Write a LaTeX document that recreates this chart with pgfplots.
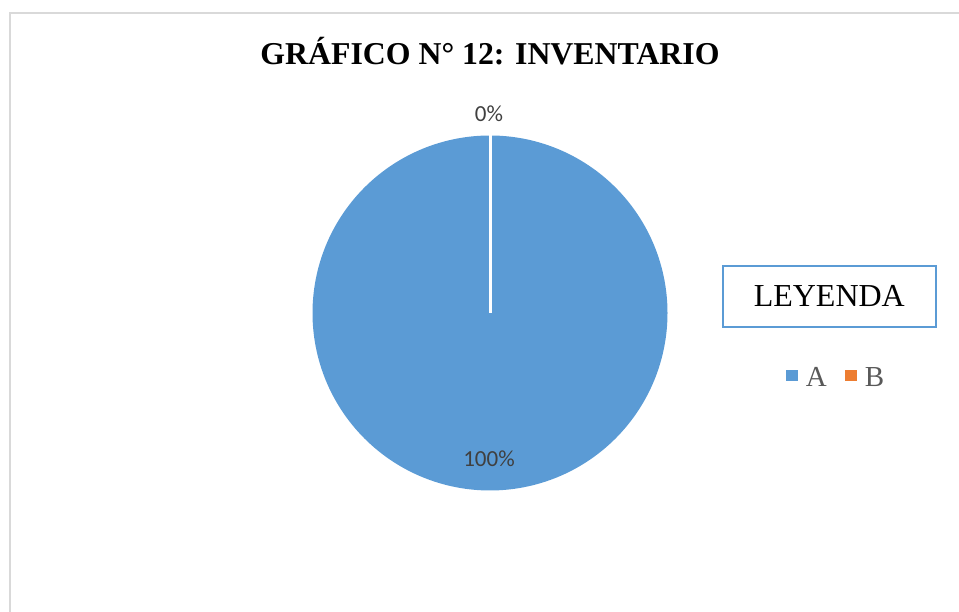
\documentclass[border=0pt]{standalone}
\usepackage{fontspec}
\setmainfont{Liberation Serif}
\newfontfamily\calibri{Carlito}
\usepackage{pgfplots}
\usepackage{pgfplotstable}
\pgfplotsset{compat=1.18}
\definecolor{pieblue}{HTML}{5B9BD5}
\definecolor{pieorange}{HTML}{ED7D31}
\definecolor{labgray}{HTML}{404040}
\definecolor{leggray}{HTML}{595959}
\definecolor{framegray}{HTML}{D9D9D9}
\pgfplotstableread{
cat val
A 100
B 0
}\piedata
\begin{document}
\begin{tikzpicture}[x=1pt,y=1pt]
\pgfplotstablegetelem{0}{val}\of\piedata \let\valA\pgfplotsretval
\pgfplotstablegetelem{1}{val}\of\piedata \let\valB\pgfplotsretval
\draw[framegray, line width=1.5pt] (10,599) rectangle (990,-30);
\node[anchor=base, font=\fontsize{31.8}{38}\selectfont\bfseries] at (490,547) {GRÁFICO N° 12: INVENTARIO};
\begin{axis}[at={(312.5pt,121.5pt)}, anchor=south west, scale only axis,
  width=355pt, height=355pt, xmin=-1, xmax=1, ymin=-1, ymax=1,
  hide axis, clip=false,
  legend columns=2,
  legend style={at={(1.3245,0.318)}, anchor=west, draw=none, fill=none,
    font=\fontsize{29}{34}\selectfont, text=leggray,
    nodes={inner sep=0pt},
    /tikz/every odd column/.append style={column sep=8pt},
    /tikz/every even column/.append style={column sep=18pt}},
  legend image code/.code={\fill[#1, draw=none] (0pt,-3pt) rectangle (12pt,8pt);}]
\addplot[fill=pieblue, draw=none, domain=90:{90-3.6*\valA}, samples=361, forget plot] ({cos(x)},{sin(x)});
\addplot[white, line width=3pt, forget plot] coordinates {(0,0) (0,1)};
\addlegendimage{fill=pieblue, draw=none}
\addlegendentry{A}
\addlegendimage{fill=pieorange, draw=none}
\addlegendentry{B}
\end{axis}
\node[anchor=base, font=\calibri\fontsize{23}{27}\selectfont, text=labgray] at (489,490) {0\%};
\node[anchor=base, font=\calibri\fontsize{23}{27}\selectfont, text=labgray] at (489,145) {100\%};
\node[draw=pieblue, line width=2pt, minimum width=213pt, minimum height=61pt, inner sep=0pt,
  font=\fontsize{32}{38}\selectfont] at (829.3,315.8) {LEYENDA};
\pgfresetboundingbox
\useasboundingbox (0,0) rectangle (959,612);
\end{tikzpicture}
\end{document}
